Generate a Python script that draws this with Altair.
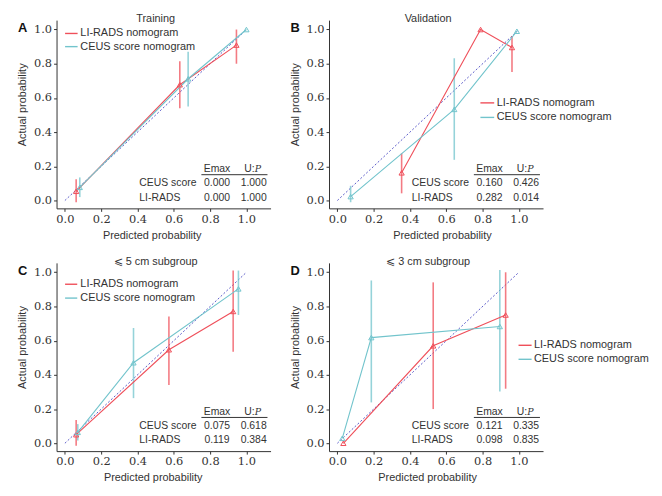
import altair as alt
import pandas as pd

nan = float("nan")

# ---------------- data ----------------
panel_letters = ["A", "B", "C", "D"]
panel_titles = ["Training", "Validation", "⩽ 5 cm subgroup", "⩽ 3 cm subgroup"]
models = ["LI-RADS nomogram", "CEUS score nomogram"]

# LI-RADS nomogram calibration points (predicted, observed, CI low, CI high)
li_pred = [[0.062, 0.633, 0.945], [0.354, 0.789, 0.962], [0.062, 0.573, 0.927], [0.033, 0.528, 0.927]]
li_obs = [[0.054, 0.677, 0.909], [0.162, 1.000, 0.895], [0.050, 0.547, 0.771], [0.000, 0.570, 0.750]]
li_lo = [[-0.010, 0.540, 0.800], [0.042, nan, 0.752], [-0.014, 0.341, 0.535], [nan, 0.200, 0.319]]
li_hi = [[0.125, 0.815, 1.000], [0.276, nan, 0.962], [0.136, 0.742, 1.010], [nan, 0.941, 1.000]]

# CEUS score nomogram calibration points
ceus_pred = [[0.082, 0.679, 1.000], [0.073, 0.644, 0.989], [0.071, 0.378, 0.956], [0.027, 0.187, 0.895]]
ceus_obs = [[0.077, 0.712, 1.000], [0.023, 0.533, 0.990], [0.064, 0.471, 0.903], [0.029, 0.618, 0.683]]
ceus_lo = [[0.020, 0.550, nan], [-0.010, 0.238, nan], [0.016, 0.264, 0.750], [nan, 0.239, 0.302]]
ceus_hi = [[0.135, 0.870, nan], [0.086, 0.832, nan], [0.112, 0.674, 1.010], [nan, 0.952, 1.013]]

# Emax / U:P tables
table_rows = ["CEUS score", "LI-RADS"]
table_cols = ["Emax", "U:"]
emax_ceus = ["0.000", "0.160", "0.075", "0.121"]
u_ceus = ["1.000", "0.426", "0.618", "0.335"]
emax_li = ["0.000", "0.282", "0.119", "0.098"]
u_li = ["1.000", "0.014", "0.384", "0.835"]

ticks = [0.0, 0.2, 0.4, 0.6, 0.8, 1.0]
diag = [0.0, 1.0]

# ---------------- styling ----------------
RED = "#ef4f5a"
TEAL = "#72c4cc"
DIAG = "#5a5ac8"
INK = "#333333"
SANS = "Liberation Sans"
SERIF = "DejaVu Serif"

# legend placement (data units) per panel: line x0, x1, text x, y rows
legend_pos = [
    (0.001, 0.070, 0.085, 0.977, 0.900),
    (0.788, 0.864, 0.878, 0.571, 0.486),
    (0.001, 0.068, 0.085, 0.930, 0.849),
    (0.998, 1.070, 1.083, 0.573, 0.491),
]
xtitle_x = [96, 114, 97, 99]

xscale = alt.Scale(domain=[-0.046, 1.133], zero=False, nice=False)
yscale = alt.Scale(domain=[-0.046, 1.055], zero=False, nice=False)
cscale = alt.Scale(domain=models, range=[RED, TEAL])


def panel(i):
    rows = []
    for m, P, O, L, H in [
        (models[0], li_pred, li_obs, li_lo, li_hi),
        (models[1], ceus_pred, ceus_obs, ceus_lo, ceus_hi),
    ]:
        for p, o, lo, hi in zip(P[i], O[i], L[i], H[i]):
            rows.append({"model": m, "pred": p, "obs": o, "lo": lo, "hi": hi})
    df = pd.DataFrame(rows)
    err = df.dropna()

    xaxis = alt.Axis(values=ticks, format=".1f", title="Predicted probability", labelOverlap=False,
                     titleX=xtitle_x[i], titleY=27, titleBaseline="middle", titleAlign="center")
    yaxis = alt.Axis(values=ticks, format=".1f", title="Actual probability", labelOverlap=False,
                     titleX=-34, titleY=85, titleBaseline="middle", titleAlign="center", titleAngle=-90)

    def X(f):
        return alt.X(f, type="quantitative", scale=xscale, axis=xaxis)

    def Y(f):
        return alt.Y(f, type="quantitative", scale=yscale, axis=yaxis)

    def XD(v):
        return alt.XDatum(v, type="quantitative", scale=xscale, axis=xaxis)

    def YD(v):
        return alt.YDatum(v, type="quantitative", scale=yscale, axis=yaxis)

    col = alt.Color("model:N", scale=cscale, legend=None)

    base_diag = alt.Chart(pd.DataFrame({"d": diag})).mark_line(
        color=DIAG, strokeDash=[2, 2], strokeWidth=1
    ).encode(x=X("d"), y=Y("d"))

    bars = alt.Chart(err).mark_rule(strokeWidth=1.6, opacity=0.75).encode(
        x=X("pred"), y=Y("lo"), y2="hi", color=col
    )
    lines = alt.Chart(df).mark_line(strokeWidth=1.1).encode(
        x=X("pred"), y=Y("obs"), color=col, detail="model:N"
    )
    pts = alt.Chart(df).mark_point(shape="triangle-up", filled=False, size=28, strokeWidth=1, opacity=1).encode(
        x=X("pred"), y=Y("obs"), color=col
    )

    layers = [base_diag, bars, lines, pts]

    def txt(t, x, y, **kw):
        opts = dict(font=SANS, fontSize=10.5, color=INK, baseline="middle")
        opts.update(kw)
        return alt.Chart(pd.DataFrame({"t": [t]})).mark_text(**opts).encode(
            x=XD(x), y=YD(y), text="t:N"
        )

    # title and panel letter
    layers.append(txt(panel_titles[i], 0.50, 1.062, fontSize=11, align="center"))
    layers.append(
        alt.Chart(pd.DataFrame({"t": [panel_letters[i]]})).mark_text(
            font=SANS, fontSize=13, fontWeight="bold", color="#111111", align="left", baseline="middle"
        ).encode(x=alt.value(-39), y=YD(1.01), text="t:N")
    )

    # legend
    lx0, lx1, ltx, ly1, ly2 = legend_pos[i]
    for m, c, yy in [(models[0], RED, ly1), (models[1], TEAL, ly2)]:
        layers.append(
            alt.Chart(pd.DataFrame({"m": [m]})).mark_rule(color=c, strokeWidth=1.4).encode(
                x=XD(lx0), x2=alt.X2Datum(lx1), y=YD(yy)
            )
        )
        layers.append(txt(m, ltx, yy, fontSize=11, align="left"))

    # Emax / U:P table
    cx_e, cx_u, lab_x = 0.838, 1.040, 0.41
    y_head, y_line, y_r1, y_r2 = 0.184, 0.151, 0.100, 0.016
    layers.append(txt(table_cols[0], cx_e, y_head, align="center"))
    layers.append(txt(table_cols[1], cx_u, y_head, align="right", dx=1))
    layers.append(txt("P", cx_u, y_head, align="left", dx=1, font="DejaVu Serif", fontStyle="italic", fontSize=9.5))
    layers.append(
        alt.Chart(pd.DataFrame({"m": [0]})).mark_rule(color=INK, strokeWidth=1).encode(
            x=XD(0.752), x2=alt.X2Datum(1.116), y=YD(y_line)
        )
    )
    layers.append(txt(table_rows[0], lab_x, y_r1, align="left"))
    layers.append(txt(emax_ceus[i], cx_e, y_r1, align="center"))
    layers.append(txt(u_ceus[i], cx_u, y_r1, align="center"))
    layers.append(txt(table_rows[1], lab_x, y_r2, align="left"))
    layers.append(txt(emax_li[i], cx_e, y_r2, align="center"))
    layers.append(txt(u_li[i], cx_u, y_r2, align="center"))

    return alt.layer(*layers).properties(width=216, height=190)


chart = (
    alt.concat(panel(0), panel(1), panel(2), panel(3), columns=2,
               spacing={"row": 55, "column": 59}, bounds="flush")
    .properties(padding={"left": 9, "top": 2, "right": 5, "bottom": 5}, background="white")
    .configure_view(stroke=None)
    .configure_axis(
        grid=False, domainColor=INK, tickColor=INK, labelColor=INK, titleColor=INK,
        tickSize=3, labelFont=SERIF, labelFontSize=11.5, labelPadding=2,
        titleFont=SANS, titleFontSize=11, titleFontWeight="normal", domainWidth=1,
    )
)

chart.save("out.html", embed_options={"renderer": "svg", "actions": False})
